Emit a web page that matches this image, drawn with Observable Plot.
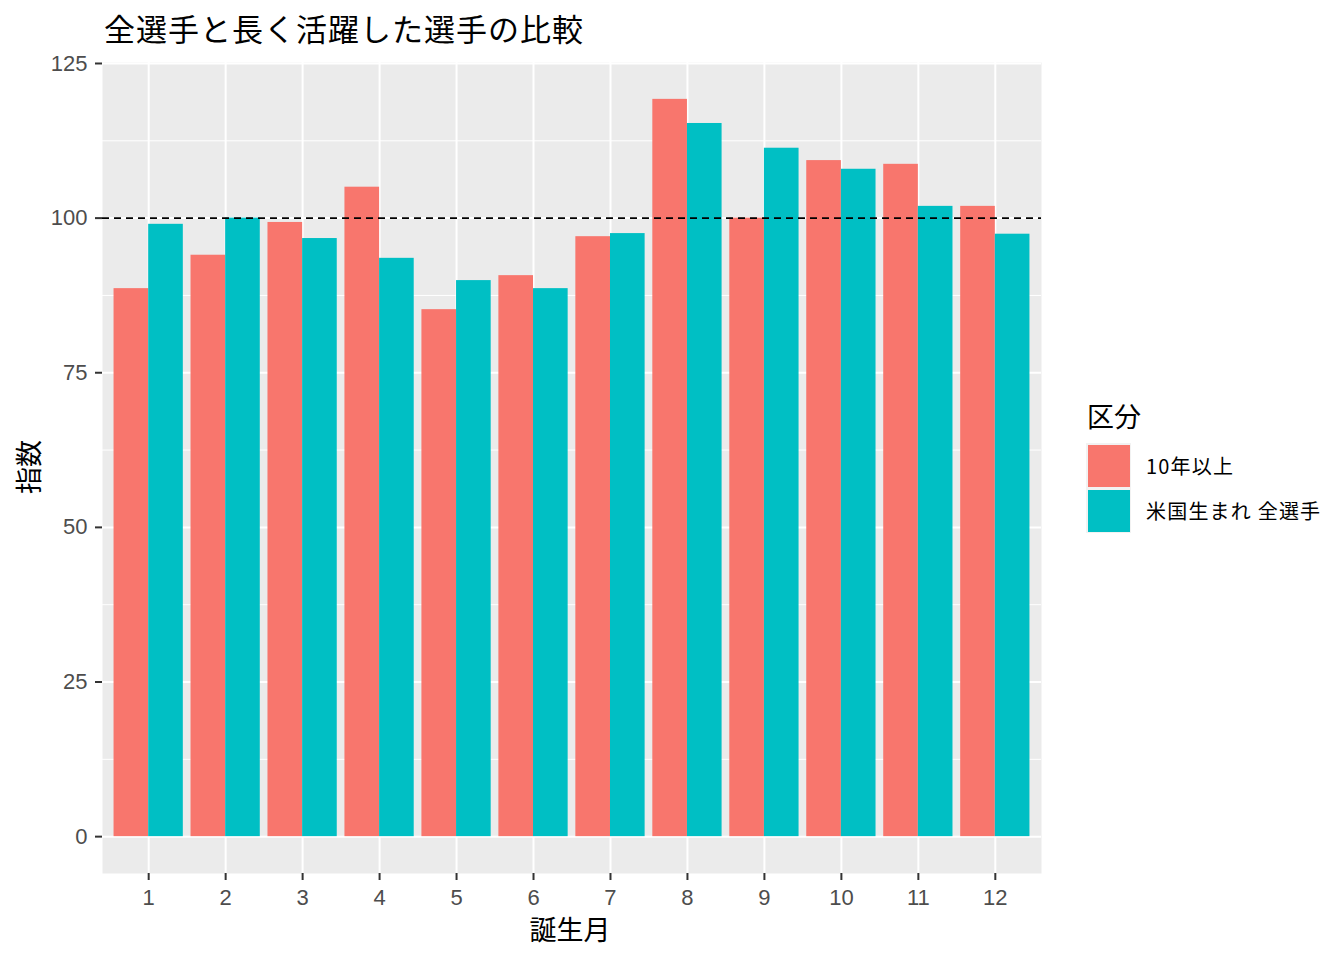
<!DOCTYPE html>
<html>
<head>
<meta charset="utf-8">
<script src="https://cdn.jsdelivr.net/npm/d3@7"></script>
<script src="https://cdn.jsdelivr.net/npm/@observablehq/plot@0.6"></script>
<style>
  html, body { margin: 0; padding: 0; background: #fff; }
  #wrap { position: relative; width: 1344px; height: 960px; font-family: "Noto Sans CJK JP", "Liberation Sans", sans-serif; }
  #title { position: absolute; left: 104px; top: 5px; font-size: 31px; color: #000; white-space: nowrap; letter-spacing: 1px; }
  #xlab { position: absolute; left: 0; width: 1140px; text-align: center; top: 909px; font-size: 27px; color: #000; }
  #ylab { position: absolute; left: 27px; top: 467px; font-size: 27px; color: #000; transform: translate(-50%, -50%) rotate(-90deg); white-space: nowrap; }
  #legend { position: absolute; left: 1086px; top: 396px; }
  #legend .ttl { font-size: 27px; color: #000; margin-left: 1px; height: 47px; line-height: 40px; }
  #legend .row { display: flex; align-items: center; height: 45px; }
  #legend .key { width: 45px; height: 45px; background: #F2F2F2; box-sizing: border-box; padding: 1.5px; }
  #legend .key div { width: 100%; height: 100%; }
  #legend .lab { font-size: 20px; margin-left: 15px; color: #000; letter-spacing: 1.2px; }
  svg { position: absolute; left: 0; top: 0; }
  svg text { font-size: 22px !important; font-family: "Liberation Sans", sans-serif !important; }
</style>
</head>
<body>
<div id="wrap">
  <div id="title"></div>
  <div id="xlab"></div>
  <div id="ylab"></div>
  <div id="legend"></div>
</div>
<script>
// ---- data ----
const months = [1, 2, 3, 4, 5, 6, 7, 8, 9, 10, 11, 12];
const groups = ["10年以上", "米国生まれ 全選手"];
const groupColors = ["#F8766D", "#00BFC4"];
const long10 = [88.6, 94.0, 99.3, 105.0, 85.2, 90.7, 97.0, 119.2, 100.0, 109.3, 108.7, 101.9];
const allUS  = [99.0, 100.0, 96.7, 93.5, 89.9, 88.6, 97.5, 115.3, 111.3, 107.9, 101.9, 97.4];
const yTicks = [0, 25, 50, 75, 100, 125];
const yMinor = [12.5, 37.5, 62.5, 87.5, 112.5];
const refValue = [100];
const titleText = "全選手と長く活躍した選手の比較";
const xLabel = "誕生月";
const yLabel = "指数";
const legendTitle = "区分";

// ---- table ----
const seriesValues = [long10, allUS];
const rows = [];
groups.forEach((g, gi) => months.forEach((m, i) => rows.push({month: m, group: g, gi, value: seriesValues[gi][i]})));

const dodgeWidth = 0.9;
const nGroups = groups.length;
const yMax = d3.max(rows, d => d.value);
const yExpand = 0.05 * yMax;

const chart = Plot.plot({
  width: 1344,
  height: 960,
  marginLeft: 102,
  marginRight: 303,
  marginTop: 62,
  marginBottom: 87,
  style: {fontFamily: "'Liberation Sans', 'Noto Sans CJK JP', sans-serif", fontSize: "22px", color: "#4D4D4D", background: "transparent"},
  x: {type: "linear", domain: [0.4, 12.6]},
  y: {type: "linear", domain: [-yExpand, yMax + yExpand]},
  color: {domain: groups, range: groupColors},
  marks: [
    Plot.frame({fill: "#EBEBEB", stroke: null}),
    Plot.ruleY(yMinor, {stroke: "#fff", strokeWidth: 1}),
    Plot.ruleY(yTicks, {stroke: "#fff", strokeWidth: 2}),
    Plot.ruleX(months, {stroke: "#fff", strokeWidth: 2}),
    Plot.rectY(rows, {
      x1: d => d.month - dodgeWidth / 2 + d.gi * dodgeWidth / nGroups,
      x2: d => d.month - dodgeWidth / 2 + (d.gi + 1) * dodgeWidth / nGroups,
      y1: 0,
      y2: "value",
      fill: "group"
    }),
    Plot.ruleY(refValue, {stroke: "#000", strokeWidth: 1.8, strokeDasharray: "7,5"}),
    Plot.axisY(yTicks, {tickSize: 7, tickPadding: 8, stroke: "#333", strokeWidth: 2, fill: "#4D4D4D", label: null, fontSize: 22}),
    Plot.axisX(months, {tickSize: 7, tickPadding: 9, stroke: "#333", strokeWidth: 2, fill: "#4D4D4D", label: null, fontSize: 22})
  ]
});
document.getElementById("wrap").appendChild(chart);

document.getElementById("title").textContent = titleText;
document.getElementById("xlab").textContent = xLabel;
document.getElementById("ylab").textContent = yLabel;

const leg = document.getElementById("legend");
const t = document.createElement("div"); t.className = "ttl"; t.textContent = legendTitle; leg.appendChild(t);
groups.forEach((g, i) => {
  const r = document.createElement("div"); r.className = "row";
  const k = document.createElement("div"); k.className = "key";
  const s = document.createElement("div"); s.style.background = groupColors[i]; k.appendChild(s);
  const l = document.createElement("div"); l.className = "lab"; l.textContent = g;
  r.appendChild(k); r.appendChild(l); leg.appendChild(r);
});
</script>
</body>
</html>
